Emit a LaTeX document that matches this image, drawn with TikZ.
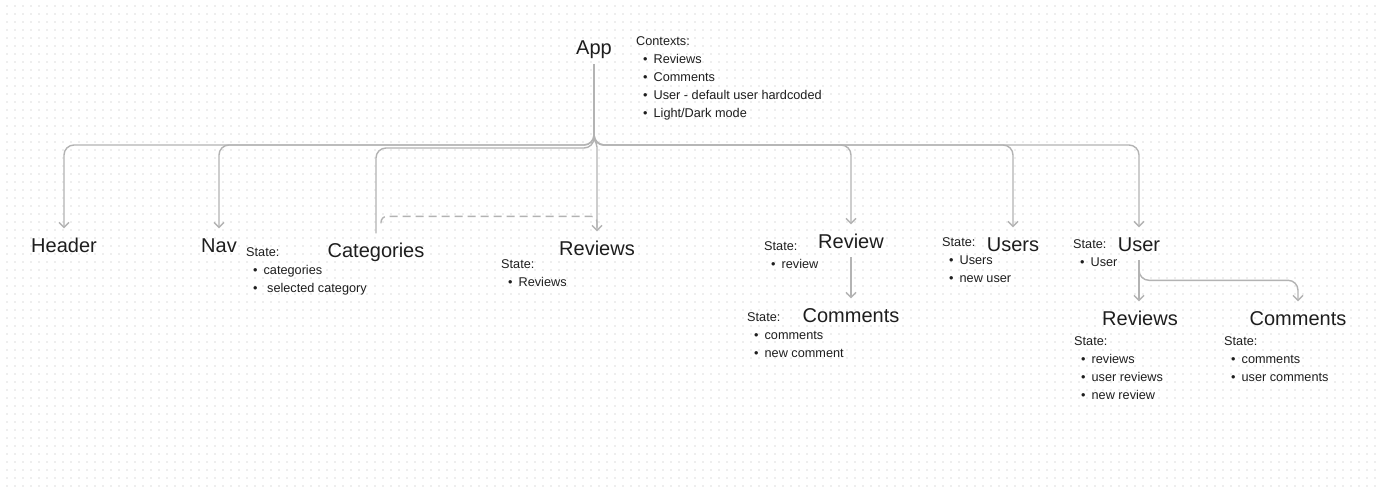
\documentclass[tikz,border=0pt]{standalone}
\usepackage{fontspec}
\setmainfont{Liberation Sans}
\usetikzlibrary{arrows.meta,calc}
\definecolor{inkDark}{HTML}{1E1E1E}
\definecolor{wireGrey}{HTML}{B3B3B3}
\definecolor{dotGrey}{HTML}{EEEEEE}
\newcommand{\stateitem}[1]{\hspace*{7pt}\textbullet\hspace{6pt}#1}

\begin{document}
\begin{tikzpicture}[
            x=1pt, y=-1pt,
            comp/.style={
                    anchor=base,
                    inner xsep=0pt,
                    inner ysep=9pt,
                    text height=14.5pt,
                    text depth=0pt,
                    text=inkDark,
                    font=\fontsize{20}{24}\selectfont
                },
            notes/.style={
                    anchor=north west,
                    yshift=9.2pt,
                    inner sep=0pt,
                    align=left,
                    text=inkDark,
                    font=\fontsize{12.7}{18}\selectfont
                },
            arrow/.style={draw=wireGrey, line width=1.4pt, rounded corners=10pt,
                    -{Straight Barb[length=5pt,width=10pt]}},
            link/.style={draw=wireGrey, line width=1.4pt, rounded corners=10pt},
            dots/.style={draw=dotGrey, line width=2pt, dash pattern=on 2pt off 6pt}
        ]
        % canvas with dot grid
        \useasboundingbox (0,0) rectangle (1381,492);
        \fill[white] (0,0) rectangle (1381,492);
        \foreach \y in {6,14,...,486}
            \draw[dots] (6,\y) -- (1381,\y);

        % components
        \node[comp] (app) at (594,55) {App};
        \node[notes] (contexts) at (636,46) {Contexts:\\ \stateitem{Reviews}\\ \stateitem{Comments}\\
            \stateitem{User - default user hardcoded}\\ \stateitem{Light/Dark mode}};

        \node[comp] (header) at (64,252) {Header};
        \node[comp] (nav) at (219,252) {Nav};
        \node[notes] (navstate) at (246,257) {State:\\ \stateitem{categories}\\ \stateitem{ selected category}};
        \node[comp] (categories) at (376,257) {Categories};
        \node[comp] (reviews) at (597,255) {Reviews};
        \node[notes] (reviewsstate) at (501,269) {State:\\ \stateitem{Reviews}};

        \node[comp] (review) at (851,248) {Review};
        \node[notes] (reviewstate) at (764,251) {State:\\ \stateitem{review}};
        \node[comp] (comments) at (851,322) {Comments};
        \node[notes] (commentsstate) at (747,322) {State:\\ \stateitem{comments}\\ \stateitem{new comment}};

        \node[comp] (users) at (1013,251) {Users};
        \node[notes] (usersstate) at (942,247) {State:\\ \stateitem{Users}\\ \stateitem{new user}};
        \node[comp] (user) at (1139,251) {User};
        \node[notes] (userstate) at (1073,249) {State:\\ \stateitem{User}};
        \node[comp] (userreviews) at (1140,325) {Reviews};
        \node[notes] (userreviewsstate) at (1074,346) {State:\\ \stateitem{reviews}\\ \stateitem{user reviews}\\ \stateitem{new review}};
        \node[comp] (usercomments) at (1298,325) {Comments};
        \node[notes] (usercommentsstate) at (1224,346) {State:\\ \stateitem{comments}\\ \stateitem{user comments}};

        % connectors
        \coordinate (hub) at (594,145);
        \draw[arrow] (app.south) -- (hub) -| (header.north);
        \draw[arrow] (app.south) -- (hub) -| (nav.north);
        \draw[link] (categories.north) |- ([yshift=-3pt]hub) -- (app.south);
        \draw[arrow, rounded corners=2pt] (app.south) -- ([yshift=6pt]hub) -- ([xshift=3pt]hub) -- (reviews.north);
        \draw[link, rounded corners=6pt, dash pattern=on 8pt off 5pt] ([xshift=5pt,yshift=10pt]categories.north)
            |- ([yshift=15pt]reviews.north) -- (reviews.north);
        \draw[arrow] (app.south) -- (hub) -| (review.north);
        \draw[arrow] (app.south) -- (hub) -| (users.north);
        \draw[arrow] (app.south) -- (hub) -| (user.north);
        \draw[arrow] (review.south) -- (comments.north);
        \draw[arrow] (user.south) -- (user.south |- userreviews.north);
        \draw[arrow] (user.south) |- ([yshift=21pt]usercomments.north) -- (usercomments.north);
    \end{tikzpicture}
\end{document}
